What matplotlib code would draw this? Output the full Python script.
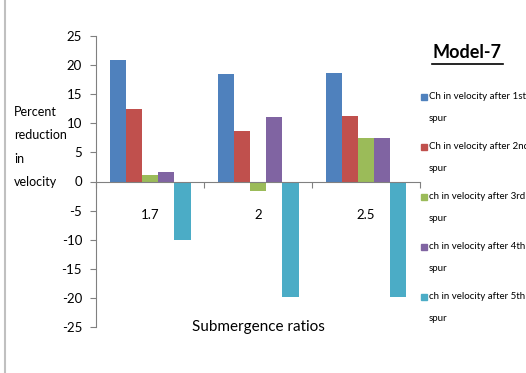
import numpy as np
import matplotlib.pyplot as plt
from matplotlib.patches import Rectangle
from matplotlib.lines import Line2D

plt.rcParams['font.family'] = ['Lato', 'DejaVu Sans']

ratios = ['1.7', '2', '2.5']
series_labels = [
    'Ch in velocity after 1st\nspur',
    'Ch in velocity after 2nd\nspur',
    'ch in velocity after 3rd\nspur',
    'ch in velocity after 4th\nspur',
    'ch in velocity after 5th\nspur',
]
spur1 = [20.8, 18.4, 18.6]
spur2 = [12.4, 8.6, 11.3]
spur3 = [1.2, -1.7, 7.4]
spur4 = [1.7, 11.0, 7.4]
spur5 = [-10.1, -19.8, -19.8]
yticks = list(range(-25, 30, 5))

colors = ['#4F81BD', '#C0504D', '#9BBB59', '#8064A2', '#4BACC6']
all_series = [spur1, spur2, spur3, spur4, spur5]

fig = plt.figure(figsize=(5.26, 3.73), dpi=100)
ax = fig.add_axes([96 / 526, 1 - 327 / 373, 324 / 526, 291 / 373])

x = np.arange(len(ratios))
w = 0.15
for i, (vals, c) in enumerate(zip(all_series, colors)):
    ax.bar(x + (i - 2) * w, vals, width=w, color=c, edgecolor='none')

ax.set_xlim(-0.5, 2.5)
ax.set_ylim(-25, 25)
ax.set_yticks(yticks)
ax.set_yticklabels([str(t) for t in yticks], fontsize=9.5)
ax.tick_params(axis='y', length=4, width=0.8, color='#808080', pad=6)

ax.spines['top'].set_visible(False)
ax.spines['right'].set_visible(False)
ax.spines['left'].set_color('#808080')
ax.spines['bottom'].set_position(('data', 0))
ax.spines['bottom'].set_color('#808080')

ax.set_xticks(x)
ax.set_xticklabels(ratios, fontsize=9.5)
ax.set_xticks([-0.5, 0.5, 1.5, 2.5], minor=True)
ax.tick_params(axis='x', which='major', length=0, pad=20)
ax.tick_params(axis='x', which='minor', length=4, width=0.8, color='#808080')

ax.text(0.5, 0.0, 'Submergence ratios', transform=ax.transAxes,
        ha='center', va='center', fontsize=11)

fig.text(14 / 526, 1 - 147 / 373, 'Percent\nreduction\nin\nvelocity',
         ha='left', va='center', fontsize=9, linespacing=2.15)

# title with underline
fig.text(467 / 526, 1 - 53 / 373, 'Model-7', ha='center', va='center',
         fontsize=13, fontweight='bold')
fig.add_artist(Line2D([432 / 526, 503 / 526], [1 - 64 / 373, 1 - 64 / 373],
                      color='black', lw=1.2))

# legend drawn by hand (square aligned with first line)
for i, (lab, c) in enumerate(zip(series_labels, colors)):
    y = 97 + i * 50
    fig.add_artist(Rectangle((421 / 526, 1 - (y + 3) / 373), 6 / 526, 6 / 373,
                             transform=fig.transFigure, color=c))
    fig.text(429 / 526, 1 - (y - 5) / 373, lab, ha='left', va='top',
             fontsize=7, linespacing=2.85)

# faint frame on the left
fig.add_artist(Line2D([5 / 526, 5 / 526], [0, 1], color='#c0c0c0', lw=1.5))

fig.savefig('out.png', dpi=100)
